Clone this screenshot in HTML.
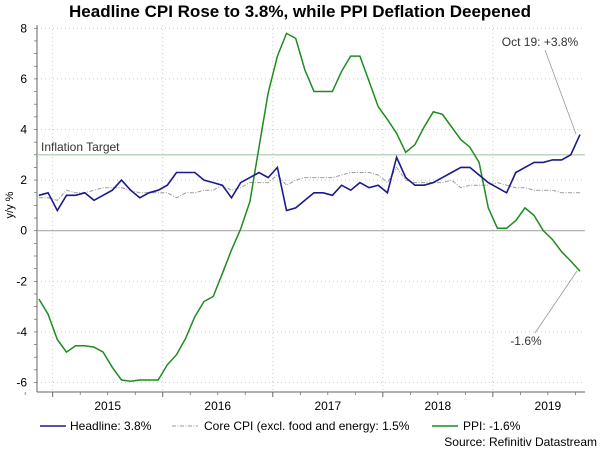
<!DOCTYPE html>
<html><head><meta charset="utf-8"><style>
body{margin:0;background:#fff;font-family:"Liberation Sans",sans-serif}
svg{display:block}
</style></head><body>
<svg id="chart" width="600" height="457" viewBox="0 0 600 457">
<text x="300" y="17" text-anchor="middle" font-size="17" font-weight="bold" fill="#000">Headline CPI Rose to 3.8%, while PPI Deflation Deepened</text>
<g id="grid"></g>
<g id="axes"></g>
<g id="series"></g>
<text x="13" y="205" font-size="11" text-anchor="middle" transform="rotate(-90 13 205)">y/y %</text>
<text x="41" y="151" font-size="12" fill="#333">Inflation Target</text>
<text x="540" y="46" font-size="12" text-anchor="middle" fill="#333">Oct 19: +3.8%</text>
<line x1="545" y1="50" x2="576" y2="134" stroke="#999" stroke-width="0.8"/>
<text x="526" y="345" font-size="12" text-anchor="middle" fill="#333">-1.6%</text>
<line x1="535" y1="333" x2="577" y2="271" stroke="#999" stroke-width="0.8"/>
<g>
<line x1="40" y1="426" x2="66" y2="426" stroke="#1a1a8c" stroke-width="1.5"/>
<text x="70" y="430" font-size="12">Headline: 3.8%</text>
<line x1="172" y1="426" x2="198" y2="426" stroke="#999" stroke-width="1" stroke-dasharray="4,1.5,1,1.5"/>
<text x="204" y="430" font-size="12">Core CPI (excl. food and energy: 1.5%</text>
<line x1="432" y1="426" x2="458" y2="426" stroke="#1e8c1e" stroke-width="1.5"/>
<text x="463" y="430" font-size="12">PPI: -1.6%</text>
</g>
<text x="597" y="446" font-size="12" text-anchor="end">Source: Refinitiv Datastream</text>
</svg>
<script>
const headline=[1.4,1.5,0.8,1.4,1.4,1.5,1.2,1.4,1.6,2.0,1.6,1.3,1.5,1.6,1.8,2.3,2.3,2.3,2.0,1.9,1.8,1.3,1.9,2.1,2.3,2.1,2.5,0.8,0.9,1.2,1.5,1.5,1.4,1.8,1.6,1.9,1.7,1.8,1.5,2.9,2.1,1.8,1.8,1.9,2.1,2.3,2.5,2.5,2.2,1.9,1.7,1.5,2.3,2.5,2.7,2.7,2.8,2.8,3.0,3.8];
const core=[1.3,1.3,1.2,1.6,1.5,1.5,1.6,1.7,1.7,1.7,1.6,1.5,1.5,1.5,1.5,1.3,1.5,1.5,1.6,1.6,1.8,1.6,1.7,1.9,1.9,1.9,2.2,1.8,2.0,2.1,2.1,2.1,2.1,2.2,2.3,2.3,2.3,2.2,1.9,2.5,2.0,1.9,1.9,1.9,1.9,2.0,1.7,1.8,1.8,1.8,1.9,1.8,1.7,1.7,1.6,1.6,1.6,1.5,1.5,1.5];
const ppi=[-2.7,-3.3,-4.3,-4.8,-4.55,-4.55,-4.6,-4.8,-5.4,-5.9,-5.95,-5.9,-5.9,-5.9,-5.3,-4.9,-4.25,-3.4,-2.8,-2.6,-1.7,-0.76,0.07,1.15,3.3,5.45,6.9,7.8,7.6,6.35,5.5,5.5,5.5,6.3,6.9,6.9,5.9,4.9,4.4,3.85,3.1,3.4,4.1,4.7,4.6,4.1,3.6,3.3,2.7,0.9,0.1,0.1,0.4,0.9,0.6,0.0,-0.35,-0.83,-1.2,-1.6];
const yTicks=[-6,-4,-2,0,2,4,6,8];
const years=["2015","2016","2017","2018","2019"];
const target=3;
const NS="http://www.w3.org/2000/svg";
const X0=37,X1=585,jan15=52.7,mw=9.17;
function xm(i){return jan15+(i-1.5)*mw;}
function y(v){return 230.7-v*25.3;}
function mk(t,a,p){const e=document.createElementNS(NS,t);for(const k in a)e.setAttribute(k,a[k]);p.appendChild(e);return e;}
const grid=document.getElementById('grid'),axes=document.getElementById('axes'),ser=document.getElementById('series');
yTicks.forEach(v=>{
  if(v!==0){const g=mk('line',{x1:X0,x2:X1,y1:y(v),y2:y(v),stroke:'#ccc','stroke-dasharray':'1,3'},grid);
  
  }
  const t=mk('text',{x:27,y:y(v)+4,'font-size':12,'text-anchor':'end'},axes);t.textContent=v;
  
  
});
for(let v=-6;v<=8;v+=0.5){mk('line',{x1:X0-3,x2:X0,y1:y(v),y2:y(v),stroke:'#666','stroke-width':0.7},axes);}
years.forEach((yr,k)=>{
  const xs=jan15+k*12*mw;
  const g=mk('line',{x1:xs,x2:xs,y1:25,y2:392,stroke:'#ccc','stroke-dasharray':'1,3'},grid);
  
  
  mk('line',{x1:xs,x2:xs,y1:392,y2:397,stroke:'#666'},axes);
  for(let q=1;q<4;q++){const xq=xs+q*3*mw;if(xq<X1)mk('line',{x1:xq,x2:xq,y1:392,y2:395,stroke:'#666','stroke-width':0.7},axes);}
  const t=mk('text',{x:xs+6*mw,y:410,'font-size':12,'text-anchor':'middle'},axes);t.textContent=yr;
  
  
});
mk('line',{x1:xs0=jan15-3*mw,x2:xs0,y1:392,y2:395,stroke:'#666','stroke-width':0.7},axes);
mk('line',{x1:X0,x2:X0,y1:25,y2:392,stroke:'#666'},axes);
mk('line',{x1:X0,x2:X1,y1:392,y2:392,stroke:'#666'},axes);
const zl=mk('line',{x1:X0,x2:X1,y1:y(0),y2:y(0),stroke:'#aaa','stroke-width':1.2},axes);


const tl=mk('line',{x1:X0,x2:X1,y1:y(target),y2:y(target),stroke:'#a8c8a8','stroke-width':1.2},axes);


function line(arr,attrs,name){
  const p=mk('polyline',Object.assign({points:arr.map((v,i)=>xm(i).toFixed(1)+','+y(v).toFixed(1)).join(' '),fill:'none'},attrs),ser);
  
  
}
line(core,{stroke:'#999','stroke-width':1,'stroke-dasharray':'4,1.5,1,1.5'},'core-cpi-line');
line(ppi,{stroke:'#1e8c1e','stroke-width':1.5},'ppi-line');
line(headline,{stroke:'#1a1a8c','stroke-width':1.6},'headline-cpi-line');
</script>
</body></html>
